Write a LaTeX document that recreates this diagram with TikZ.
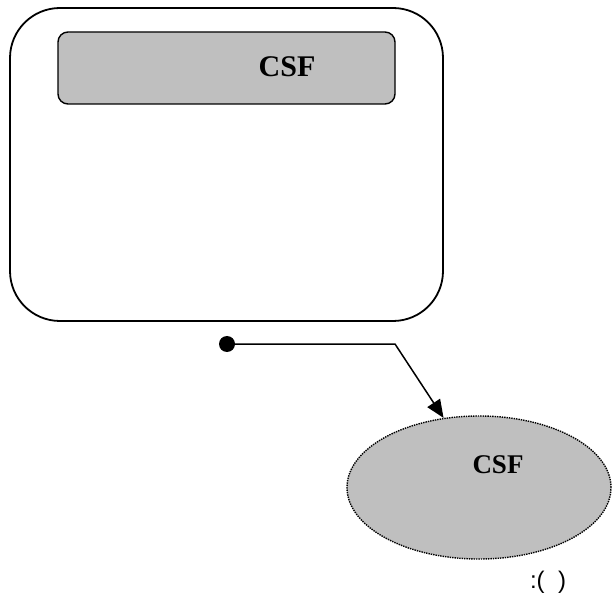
\documentclass[tikz,border=0pt]{standalone}
\usepackage{fontspec}
\setmainfont{Liberation Serif}
\newfontfamily\labelfont{Liberation Sans}
\usetikzlibrary{shapes,arrows.meta}

\begin{document}
\begin{tikzpicture}[x=1pt,y=1pt]
\useasboundingbox (0,0) rectangle (612,608);
\node[draw,line width=1.8pt,rounded corners=50pt,minimum width=433pt,minimum height=313pt,inner sep=0pt] (frame) at (226.5,443.5) {};
\node[draw,fill=gray!50,line width=1.4pt,rounded corners=10pt,minimum width=337pt,minimum height=72pt,inner sep=0pt] (band) at (226.5,540) {};
\node[font=\fontsize{30}{30}\selectfont\bfseries] (bandtext) at (287,541) {CSF};
\node[draw,densely dotted,line width=1.4pt,fill=gray!50,shape=ellipse,minimum width=264pt,minimum height=143pt,inner sep=0pt] (blob) at (479,120.5) {};
\node[font=\fontsize{27}{27}\selectfont\bfseries] (blobtext) at (498,143) {CSF};
\node[font=\labelfont\fontsize{24}{24}\selectfont] (note) at (548,26) {:(\ \ )};
\node[fill=black,inner sep=0pt,minimum size=16pt,shape=circle] (dot) at (227,264) {};
\coordinate (bend) at (395,264);
\draw[line width=1.5pt,-{Triangle[length=18pt,width=15pt]}] (dot) -- (bend) -- (blob.117);
\end{tikzpicture}
\end{document}
